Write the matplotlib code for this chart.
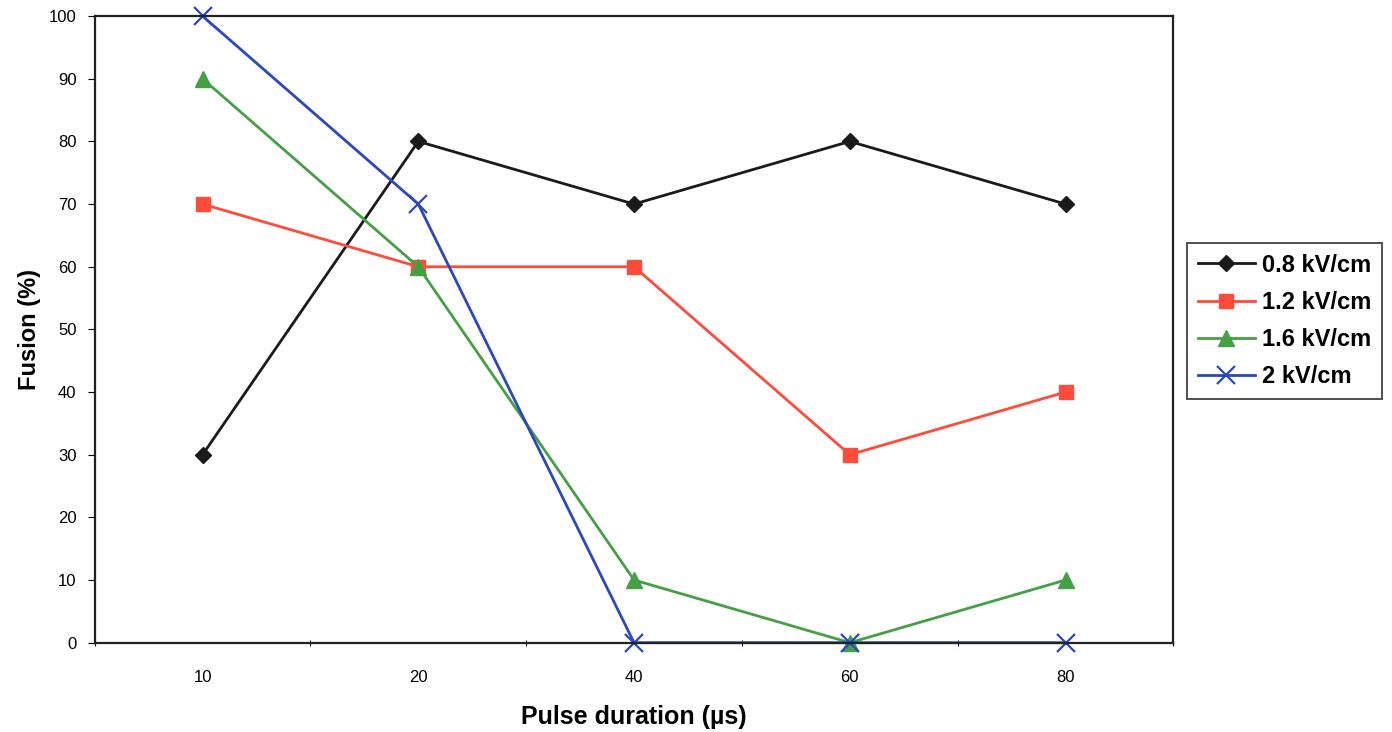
import matplotlib
matplotlib.use("Agg")
import matplotlib.pyplot as plt
import numpy as np

plt.rcParams['font.family'] = ['Liberation Sans', 'DejaVu Sans']

durations = ["10", "20", "40", "60", "80"]
series_names = ["0.8 kV/cm", "1.2 kV/cm", "1.6 kV/cm", "2 kV/cm"]
fusion_08 = [30, 80, 70, 80, 70]
fusion_12 = [70, 60, 60, 30, 40]
fusion_16 = [90, 60, 10, 0, 10]
fusion_20 = [100, 70, 0, 0, 0]
y_ticks = [0, 10, 20, 30, 40, 50, 60, 70, 80, 90, 100]

fig = plt.figure(figsize=(13.92, 7.32), dpi=100)
ax = fig.add_axes([0.068, 0.122, 0.775, 0.856])

x = np.arange(len(durations))
styles = [
    dict(color="#1a1a1a", marker="D", markersize=8),
    dict(color="#ff4b3a", marker="s", markersize=10),
    dict(color="#45a045", marker="^", markersize=11),
    dict(color="#2a48c0", marker="x", markersize=13, markeredgewidth=1.6),
]
for vals, name, st in zip([fusion_08, fusion_12, fusion_16, fusion_20], series_names, styles):
    ax.plot(x, vals, linewidth=2, label=name, clip_on=False, **st)

ax.set_xlim(-0.5, len(durations) - 0.5)
ax.set_ylim(0, 100)
ax.set_yticks(y_ticks)
ax.set_yticklabels([str(v) for v in y_ticks], fontsize=12)
ax.set_xticks(np.arange(-0.5, len(durations), 1.0))
ax.set_xticklabels([])
ax.set_xticks(x, minor=True)
ax.set_xticklabels(durations, minor=True, fontsize=12)
ax.tick_params(axis='x', which='minor', length=0, pad=20)
ax.tick_params(axis='x', which='major', length=5, direction='inout')
ax.tick_params(axis='y', length=5, direction='out', pad=8)
for s in ax.spines.values():
    s.set_linewidth(1.6)
    s.set_color("#222222")

ax.set_ylabel("Fusion (%)", fontsize=17, fontweight='bold', labelpad=6)
ax.set_xlabel("Pulse duration (\u00b5s)", fontsize=18, fontweight='bold', labelpad=14)

leg = ax.legend(loc='upper left', bbox_to_anchor=(0.853, 0.668), bbox_transform=fig.transFigure,
                borderaxespad=0, fancybox=False, frameon=True, edgecolor="#222222",
                prop=dict(size=17, weight='bold'), handlelength=2.4, handletextpad=0.3,
                labelspacing=0.6, borderpad=0.45)
leg.get_frame().set_linewidth(1.4)

fig.savefig("out.png", dpi=100, facecolor="white")
